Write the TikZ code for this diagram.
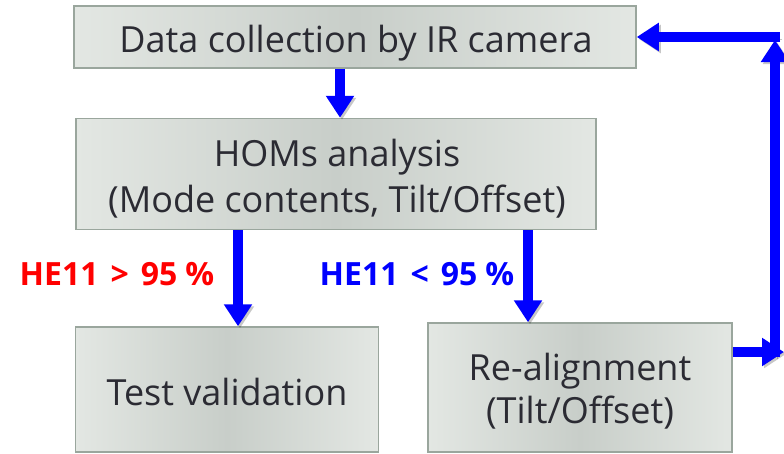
\documentclass[tikz,border=0pt]{standalone}
\usepackage{fontspec}
\setmainfont{Open Sans}
\usetikzlibrary{arrows.meta}
\definecolor{boxL}{HTML}{E3E7E3}
\definecolor{boxM}{HTML}{C8CEC9}
\definecolor{boxB}{HTML}{9AA69D}
\definecolor{txt}{HTML}{2B2B33}
\definecolor{flowblue}{HTML}{0000FF}
\definecolor{lblred}{HTML}{FF0000}
\begin{document}
\begin{tikzpicture}[x=1pt,y=-1pt,
  flowbox/.style={draw=boxB,line width=1.5pt,left color=boxL,right color=boxL,middle color=boxM,
    inner sep=0pt,shading angle=90},
  boxtext/.style={text=txt,font=\fontsize{36}{46}\selectfont,anchor=base,inner sep=0pt},
  flow/.style={draw=flowblue,line width=9.5pt,-{Triangle[width=27pt,length=22pt]},
    preaction={draw=black,opacity=0.22,transform canvas={shift={(2pt,-2pt)}}}},
  lbl/.style={font=\bfseries\fontsize{32}{38}\selectfont,anchor=base,inner sep=0pt}
]
\useasboundingbox (0,0) rectangle (784,453);
\clip (0,0) rectangle (784,453);
\node[flowbox,minimum width=562pt,minimum height=62pt] (d) at (355,37) {};
\node[flowbox,minimum width=520pt,minimum height=111pt] (h) at (336,174) {};
\node[flowbox,minimum width=303pt,minimum height=125pt] (t) at (227,389.5) {};
\node[flowbox,minimum width=304pt,minimum height=129pt] (r) at (580,387.5) {};
\node[boxtext] (dt) at (356,52) {Data collection by IR camera};
\node[boxtext] (ht1) at (337,166) {HOMs analysis};
\node[boxtext] (ht2) at (337,212) {(Mode contents, Tilt/Offset)};
\node[boxtext] (tt) at (227,405) {Test validation};
\node[boxtext] (rt1) at (580,380) {Re-alignment};
\node[boxtext] (rt2) at (580,423) {(Tilt/Offset)};
\node[lbl,text=lblred] (l1) at (117,285) {HE11\hspace{12pt}>\hspace{12pt}95\hspace{8pt}\%};
\node[lbl,text=flowblue] (l2) at (417,285) {HE11\hspace{12pt}<\hspace{12pt}95\hspace{8pt}\%};
\coordinate (c1) at (784,352);
\coordinate (c2) at (775,357);
\coordinate (c3) at (775,40);
\coordinate (c4) at (780,37);
\draw[flow] ([xshift=-15pt]d.south) -- ([xshift=-15pt]d.south |- h.north);
\draw[flow] ([xshift=-98pt]h.south) -- ([xshift=-98pt]h.south |- t.north);
\draw[flow] ([xshift=192pt]h.south) -- ([xshift=192pt]h.south |- r.north);
\draw[flow] (r.east |- c1) -- (c1);
\draw[flow] (c2) -- (c3);
\draw[flow] (c4) -- (d.east |- c4);
\end{tikzpicture}
\end{document}
